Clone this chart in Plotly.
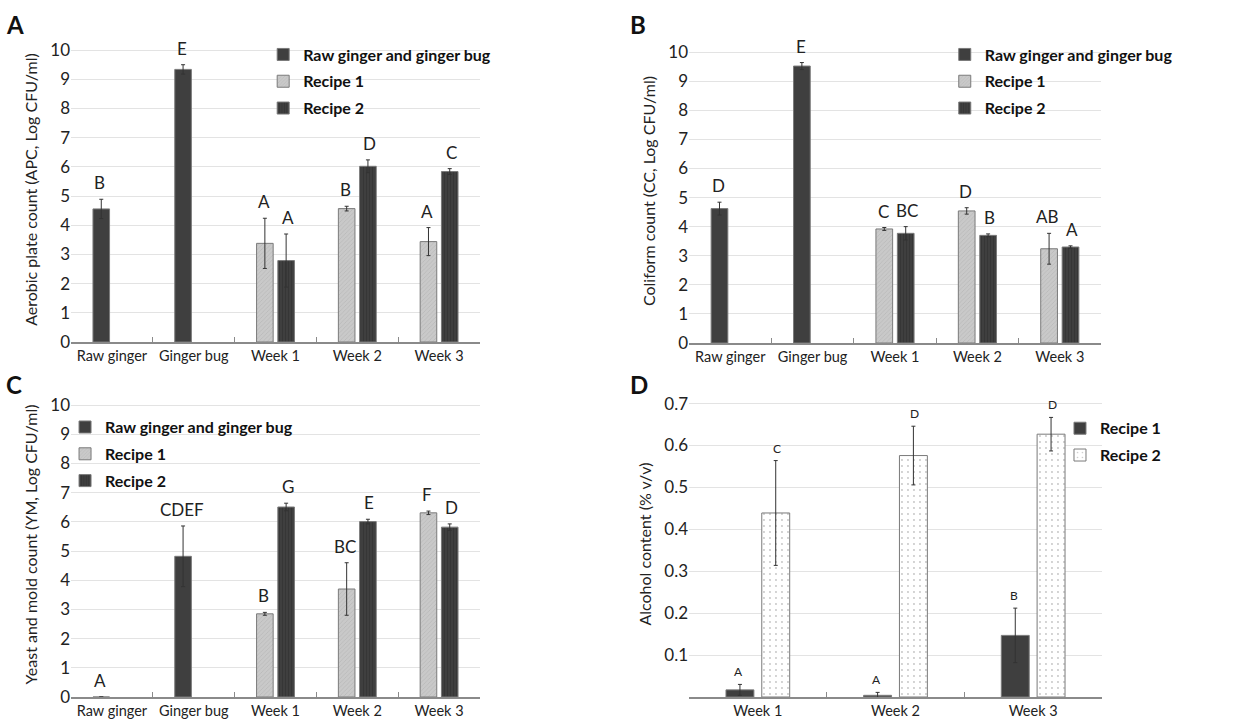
import plotly.graph_objects as go

# ---------------- data ----------------
categories = ["Raw ginger", "Ginger bug", "Week 1", "Week 2", "Week 3"]
base_cats = ["Raw ginger", "Ginger bug"]
weeks = ["Week 1", "Week 2", "Week 3"]

# Panel A: aerobic plate count
apc_base = [4.56, 9.34]
apc_base_err = [0.33, 0.16]
apc_r1 = [3.38, 4.57, 3.44]
apc_r1_err = [0.86, 0.08, 0.48]
apc_r2 = [2.79, 6.02, 5.84]
apc_r2_err = [0.91, 0.22, 0.10]
apc_letters_base = ["B", "E"]
apc_letters_r1 = ["A", "B", "A"]
apc_letters_r2 = ["A", "D", "C"]

# Panel B: coliform count
cc_base = [4.62, 9.52]
cc_base_err = [0.22, 0.12]
cc_r1 = [3.92, 4.54, 3.24]
cc_r1_err = [0.05, 0.11, 0.53]
cc_r2 = [3.77, 3.70, 3.30]
cc_r2_err = [0.23, 0.05, 0.04]
cc_letters_base = ["D", "E"]
cc_letters_r1 = ["C", "D", "AB"]
cc_letters_r2 = ["BC", "B", "A"]

# Panel C: yeast and mold count
ym_base = [0.0, 4.82]
ym_base_err = [0.0, 1.04]
ym_r1 = [2.85, 3.70, 6.31]
ym_r1_err = [0.05, 0.90, 0.06]
ym_r2 = [6.51, 6.01, 5.82]
ym_r2_err = [0.13, 0.08, 0.11]
ym_letters_base = ["A", "CDEF"]
ym_letters_r1 = ["B", "BC", "F"]
ym_letters_r2 = ["G", "E", "D"]

# Panel D: alcohol content
alc_r1 = [0.017, 0.004, 0.147]
alc_r1_err = [0.013, 0.007, 0.065]
alc_r2 = [0.439, 0.576, 0.627]
alc_r2_err = [0.125, 0.070, 0.040]
alc_letters_r1 = ["A", "A", "B"]
alc_letters_r2 = ["C", "D", "D"]

y_titles = [
    "Aerobic plate count (APC, Log CFU/ml)",
    "Coliform count (CC, Log CFU/ml)",
    "Yeast and mold count (YM, Log CFU/ml)",
    "Alcohol content (% v/v)",
]
panel_letters = ["A", "B", "C", "D"]

# ---------------- style ----------------
FONT = "Lato, 'Open Sans', sans-serif"
DARK = "#3f3f3f"
LIGHT = "#c9c9c9"
EDGE = "#7a7a7a"
ERR = dict(type="data", thickness=1, width=2, color="#333333")

fig = go.Figure()

W, H = 1258, 722
def px_x(a, b):
    return [a / W, b / W]
def px_y(bottom, top):
    return [(H - bottom) / H, (H - top) / H]

panels = [
    dict(x=px_x(71, 480), y=px_y(342, 37), rng=[0, 10.45]),
    dict(x=px_x(689, 1101), y=px_y(343, 39), rng=[0, 10.45]),
    dict(x=px_x(71, 480), y=px_y(697, 392), rng=[0, 10.45]),
    dict(x=px_x(689, 1102), y=px_y(697, 391), rng=[0, 0.73]),
]

def add_three(idx, base, base_err, r1, r1_err, r2, r2_err, lb, l1, l2, legend_name):
    xa = "x" if idx == 0 else f"x{idx+1}"
    ya = "y" if idx == 0 else f"y{idx+1}"
    fig.add_trace(go.Bar(
        x=base_cats, y=base, name="Raw ginger and ginger bug",
        marker=dict(color=DARK, line=dict(color=EDGE, width=1)),
        error_y=dict(array=base_err, **ERR), offsetgroup="a",
        legendgroup=f"{idx}base",
        xaxis=xa, yaxis=ya, legend=legend_name))
    fig.add_trace(go.Bar(
        x=weeks, y=r1, name="Recipe 1",
        marker=dict(color=LIGHT, line=dict(color=EDGE, width=1),
                    pattern=dict(shape="/", fgcolor="#a8a8a8", size=3, solidity=0.25)),
        error_y=dict(array=r1_err, **ERR), offsetgroup="a",
        legendgroup=f"{idx}r1",
        xaxis=xa, yaxis=ya, legend=legend_name))
    fig.add_trace(go.Bar(
        x=weeks, y=r2, name="Recipe 2",
        marker=dict(color=DARK, line=dict(color=EDGE, width=1),
                    pattern=dict(shape="|", fgcolor="#2a2a2a", size=3, solidity=0.3)),
        error_y=dict(array=r2_err, **ERR), offsetgroup="b",
        legendgroup=f"{idx}r2",
        xaxis=xa, yaxis=ya, legend=legend_name))
    for cats, vals, errs, labs, shift in [
        (base_cats, base, base_err, lb, -12),
        (weeks, r1, r1_err, l1, -12),
        (weeks, r2, r2_err, l2, 12),
    ]:
        for c, v, e, t in zip(cats, vals, errs, labs):
            fig.add_annotation(x=c, y=v + e, text=t, xref=xa, yref=ya,
                               showarrow=False, yanchor="bottom", xshift=shift,
                               yshift=4, font=dict(size=17, color="#222222", family=FONT))

add_three(0, apc_base, apc_base_err, apc_r1, apc_r1_err, apc_r2, apc_r2_err,
          apc_letters_base, apc_letters_r1, apc_letters_r2, "legend")
add_three(1, cc_base, cc_base_err, cc_r1, cc_r1_err, cc_r2, cc_r2_err,
          cc_letters_base, cc_letters_r1, cc_letters_r2, "legend2")
add_three(2, ym_base, ym_base_err, ym_r1, ym_r1_err, ym_r2, ym_r2_err,
          ym_letters_base, ym_letters_r1, ym_letters_r2, "legend3")

# Panel D
fig.add_trace(go.Bar(
    x=weeks, y=alc_r1, name="Recipe 1",
    marker=dict(color=DARK, line=dict(color=EDGE, width=1)),
    error_y=dict(array=alc_r1_err, **ERR), offsetgroup="a", legendgroup="d1",
    xaxis="x4", yaxis="y4", legend="legend4"))
fig.add_trace(go.Bar(
    x=weeks, y=alc_r2, name="Recipe 2",
    marker=dict(color="white", line=dict(color=EDGE, width=1),
                pattern=dict(shape=".", fgcolor="#8a8a8a", size=6, solidity=0.08)),
    error_y=dict(array=alc_r2_err, **ERR), offsetgroup="b", legendgroup="d2",
    xaxis="x4", yaxis="y4", legend="legend4"))
for vals, errs, labs, shift in [(alc_r1, alc_r1_err, alc_letters_r1, -19),
                                (alc_r2, alc_r2_err, alc_letters_r2, 19)]:
    for c, v, e, t in zip(weeks, vals, errs, labs):
        fig.add_annotation(x=c, y=v + e, text=t, xref="x4", yref="y4",
                           showarrow=False, yanchor="bottom", xshift=shift, yshift=3,
                           font=dict(size=12, color="#222222", family=FONT))

for i, p in enumerate(panels):
    sfx = "" if i == 0 else str(i + 1)
    yaxis = dict(domain=p["y"], range=p["rng"], anchor="x" + sfx, automargin=False,
                 showgrid=True, gridcolor="#e3e3e3", gridwidth=1,
                 zeroline=False, showline=False, ticks="",
                 tickfont=dict(size=17, color="#222222", family=FONT),
                 title=dict(text=y_titles[i], font=dict(size=16, color="#222222", family=FONT),
                            standoff=8))
    if i < 3:
        yaxis["dtick"] = 1
    else:
        yaxis["tickvals"] = [0.1, 0.2, 0.3, 0.4, 0.5, 0.6, 0.7]
    xaxis = dict(domain=p["x"], anchor="y" + sfx, type="category", automargin=False,
                 categoryorder="array",
                 categoryarray=categories if i < 3 else weeks,
                 showline=True, linecolor="#8a8a8a", linewidth=1.5,
                 ticks="inside", ticklen=5, tickcolor="#8a8a8a", tickson="boundaries",
                 showgrid=False, tickangle=0,
                 tickfont=dict(size=14.5, color="#222222", family=FONT))
    fig.layout["xaxis" + sfx] = xaxis
    fig.layout["yaxis" + sfx] = yaxis

legend_style = dict(font=dict(size=16, color="#111111", family=FONT, weight="bold"),
                    bgcolor="rgba(255,255,255,0)", xanchor="left", yanchor="top",
                    tracegroupgap=3, itemwidth=30)
fig.update_layout(
    legend=dict(x=0.2092, y=0.948, **legend_style),
    legend2=dict(x=0.751, y=0.948, **legend_style),
    legend3=dict(x=0.0517, y=0.432, **legend_style),
    legend4=dict(x=0.8426, y=0.4303, **legend_style),
)

for t, (x, y) in zip(panel_letters, [(4, 8), (628, 8), (4, 368), (628, 368)]):
    fig.add_annotation(x=x / W, y=1 - y / H, xref="paper", yref="paper",
                       text=f"<b>{t}</b>", showarrow=False, xanchor="left", yanchor="top",
                       font=dict(size=24, color="#111111", family=FONT))

fig.update_layout(
    width=W, height=H, margin=dict(l=0, r=0, t=0, b=0),
    paper_bgcolor="white", plot_bgcolor="white",
    barmode="group", bargap=0.48, bargroupgap=0.22,
    font=dict(family=FONT),
)

fig.write_html("out.html", config={"displayModeBar": False},
               post_script="document.body.style.margin='0';document.body.style.padding='0';")
